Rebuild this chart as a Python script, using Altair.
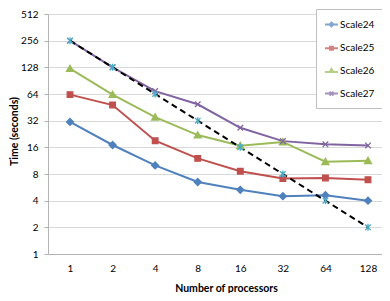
import altair as alt
import pandas as pd

processors = [1, 2, 4, 8, 16, 32, 64, 128]
scale24 = [31, 17, 10, 6.5, 5.3, 4.5, 4.6, 4.0]
scale25 = [63, 48, 19, 12, 8.6, 7.1, 7.2, 6.9]
scale26 = [124, 63, 35, 22, 16.7, 18.4, 11, 11.3]
scale27 = [256, 128, 69, 49, 26.6, 18.8, 17.3, 16.8]
ideal = [256, 128, 64, 32, 16, 8, 4, 2]
y_ticks = [1, 2, 4, 8, 16, 32, 64, 128, 256, 512]

series_names = ["Scale24", "Scale25", "Scale26", "Scale27"]
all_series = series_names + ["Ideal"]
colors = ["#4F81BD", "#C0504D", "#9BBB59", "#8064A2"]
ideal_marker_color = "#4BACC6"

marker_paths = [
    "M0,-1L1,0L0,1L-1,0Z",
    "M-0.8,-0.8L0.8,-0.8L0.8,0.8L-0.8,0.8Z",
    "M0,-0.95L1,0.8L-1,0.8Z",
    "M-0.8,-0.8L0.8,0.8M-0.8,0.8L0.8,-0.8",
    "M-0.8,-0.8L0.8,0.8M-0.8,0.8L0.8,-0.8M0,-1L0,1",
]
legend_paths = [
    "M-1,0L1,0M0,-0.3L0.3,0L0,0.3L-0.3,0ZM0,-0.3L0,0.3",
    "M-1,0L1,0M-0.22,-0.22L0.22,-0.22L0.22,0.22L-0.22,0.22ZM0,-0.22L0,0.22",
    "M-1,0.15L1,0.15M0,-0.3L0.3,0.18L-0.3,0.18ZM0,-0.2L0,0.15",
    "M-1,0L1,0M-0.3,-0.3L0.3,0.3M-0.3,0.3L0.3,-0.3",
]

rows = []
for name, vals in zip(all_series, [scale24, scale25, scale26, scale27, ideal]):
    for p, v in zip(processors, vals):
        rows.append({"series": name, "processors": p, "time": v})
df = pd.DataFrame(rows)

FONT = "Lato"

x_enc = alt.X(
    "processors:Q",
    scale=alt.Scale(type="log", base=2, domain=[0.6988, 160.75], nice=False),
    axis=alt.Axis(
        values=processors, format="d", title="Number of processors", grid=False,
        ticks=False, labelPadding=9, labelFlush=False, labelOverlap=False,
        domainColor="#B3B3B3", titleX=178, titleY=34, titleBaseline="middle",
        titleAlign="center",
    ),
)
y_enc = alt.Y(
    "time:Q",
    scale=alt.Scale(type="log", base=2, domain=[1, 512], nice=False),
    axis=alt.Axis(
        values=y_ticks, format="d", title="Time (seconds)", tickSize=4,
        tickColor="#B3B3B3", domainColor="#B3B3B3", gridColor="#D9D9D9",
        labelPadding=6, labelFlush=False, labelOverlap=False,
        titleX=-34, titleY=117, titleBaseline="middle", titleAlign="center",
    ),
)

base = alt.Chart(df)

lines = base.transform_filter(
    alt.FieldOneOfPredicate(field="series", oneOf=series_names)
).mark_line(strokeWidth=2).encode(
    x=x_enc, y=y_enc,
    color=alt.Color("series:N", scale=alt.Scale(domain=series_names, range=colors), legend=None),
)

ideal_line = base.transform_filter(alt.datum.series == "Ideal").mark_line(
    color="black", strokeWidth=2, strokeDash=[6, 4]
).encode(x=x_enc, y=y_enc)

points = base.mark_point(filled=True, size=49, strokeWidth=1.3, opacity=1).encode(
    x=x_enc, y=y_enc,
    color=alt.Color("series:N", scale=alt.Scale(domain=all_series, range=colors + [ideal_marker_color]), legend=None),
    stroke=alt.Stroke("series:N", scale=alt.Scale(domain=all_series, range=colors + [ideal_marker_color]), legend=None),
    shape=alt.Shape("series:N", scale=alt.Scale(domain=all_series, range=marker_paths), legend=None),
)

legend_props = dict(
    orient="none", legendX=268, legendY=-5, title=None,
    strokeColor="#BFBFBF", fillColor="white", padding=8,
    symbolSize=169, symbolStrokeWidth=2, rowPadding=9.7,
    labelFont=FONT, labelFontSize=10, labelOffset=1, labelColor="#000000",
)

legend_layer = base.transform_filter("datum.series == 'none'").mark_point(
    filled=False, strokeWidth=2, size=169
).encode(
    x=x_enc, y=y_enc,
    color=alt.Color("series:N", scale=alt.Scale(domain=series_names, range=colors), legend=alt.Legend(**legend_props)),
    shape=alt.Shape("series:N", scale=alt.Scale(domain=series_names, range=legend_paths), legend=alt.Legend(**legend_props)),
)

chart = alt.layer(lines, ideal_line, points, legend_layer).resolve_scale(
    color="independent", shape="independent", stroke="independent"
).properties(
    width=334, height=240,
    padding={"left": 40, "top": 6, "right": 0, "bottom": 39},
    autosize="none",
).configure_view(stroke=None).configure_axis(
    labelFont=FONT, titleFont=FONT, labelFontSize=10, titleFontSize=10.5,
    titleFontWeight="bold", labelColor="#000000", titleColor="#000000",
)

chart.save("out.html", embed_options={"renderer": "svg", "actions": False})
